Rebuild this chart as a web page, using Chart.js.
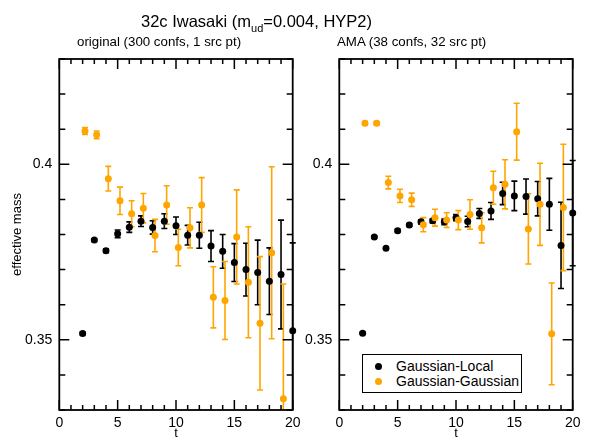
<!DOCTYPE html>
<html>
<head>
<meta charset="utf-8">
<script src="https://cdn.jsdelivr.net/npm/chart.js@4.4.0/dist/chart.umd.min.js"></script>
<style>
    body { margin: 0; background: #fff; font-family: "Liberation Sans", Arial, sans-serif; }
    #wrap { position: relative; width: 592px; height: 441px; overflow: hidden; }
    canvas { position: absolute; left: 0; top: 0; }
    .txt { position: absolute; white-space: nowrap; color: #000; line-height: 1; }
    #title { left: 141px; top: 13px; font-size: 16.5px; }
    #title .sub { font-size: 11px; position: relative; top: 5px; }
    #subLeft { left: 77px; top: 35px; font-size: 13.3px; }
    #subRight { left: 337px; top: 35px; font-size: 13.3px; }
    #legend { position: absolute; left: 362px; top: 354px; width: 158px; height: 37px;
              border: 1.2px solid #000; background: #fff; font-size: 14px; }
    #legend .row { position: absolute; left: 0; height: 16px; line-height: 16px; }
    #legend .dot { position: absolute; left: 12px; top: 4.5px; width: 7px; height: 7px; border-radius: 50%; }
    #legend .lbl { position: absolute; left: 33px; top: 0; white-space: nowrap; }
</style>
</head>
<body>
<div id="wrap">
    <canvas id="origChart" width="592" height="441"></canvas>
    <canvas id="amaChart" width="592" height="441"></canvas>
    <div class="txt" id="title">32c Iwasaki (m<span class="sub">ud</span>=0.004, HYP2)</div>
    <div class="txt" id="subLeft">original (300 confs, 1 src pt)</div>
    <div class="txt" id="subRight">AMA (38 confs, 32 src pt)</div>
    <div id="legend">
        <div class="row" style="top:3px"><span class="dot" style="background:#000"></span><span class="lbl">Gaussian-Local</span></div>
        <div class="row" style="top:18px"><span class="dot" style="background:#ffa500"></span><span class="lbl">Gaussian-Gaussian</span></div>
    </div>
</div>
<script>
// time slices (orange points are drawn slightly shifted to the right)
const localTimes = [2, 3, 4, 5, 6, 7, 8, 9, 10, 11, 12, 13, 14, 15, 16, 17, 18, 19, 20];
const gaussTimes = [2.2, 3.2, 4.2, 5.2, 6.2, 7.2, 8.2, 9.2, 10.2, 11.2, 12.2, 13.2, 14.2, 15.2, 16.2, 17.2, 18.2, 19.2];

// original (300 confs, 1 src pt)
const origLocal    = [0.3518, 0.3784, 0.3754, 0.3802, 0.3821, 0.3838, 0.3820, 0.3838, 0.3825, 0.3798, 0.3798, 0.3767, 0.3752, 0.3720, 0.3700, 0.3692, 0.3667, 0.3686, 0.3526];
const origLocalErr = [0.0004, 0.0004, 0.0005, 0.0011, 0.0015, 0.0015, 0.0019, 0.0021, 0.0025, 0.0028, 0.0037, 0.0044, 0.0048, 0.0054, 0.0075, 0.0092, 0.0095, 0.0155, 0.0250];
const origGauss    = [0.4095, 0.4084, 0.3959, 0.3896, 0.3859, 0.3875, 0.3797, 0.3884, 0.3763, 0.3819, 0.3884, 0.3621, 0.3612, 0.3793, 0.3664, 0.3547, 0.3748, 0.3332];
const origGaussErr = [0.0010, 0.0011, 0.0035, 0.0039, 0.0037, 0.0042, 0.0046, 0.0055, 0.0052, 0.0057, 0.0078, 0.0087, 0.0111, 0.0134, 0.0158, 0.0190, 0.0245, 0.0327];

// AMA (38 confs, 32 src pt)
const amaLocal    = [0.3519, 0.3793, 0.3761, 0.3811, 0.3827, 0.3836, 0.3839, 0.3836, 0.3848, 0.3837, 0.3860, 0.3867, 0.3917, 0.3910, 0.3908, 0.3902, 0.3886, 0.3769, 0.3861];
const amaLocalErr = [0.0003, 0.0003, 0.0003, 0.0004, 0.0004, 0.0006, 0.0006, 0.0008, 0.0009, 0.0015, 0.0014, 0.0024, 0.0032, 0.0042, 0.0050, 0.0049, 0.0074, 0.0123, 0.0150];
const amaGauss    = [0.4117, 0.4117, 0.3948, 0.3910, 0.3899, 0.3828, 0.3848, 0.3841, 0.3841, 0.3857, 0.3819, 0.3933, 0.3943, 0.4093, 0.3816, 0.3886, 0.3517, 0.3877];
const amaGaussErr = [0.0005, 0.0005, 0.0018, 0.0019, 0.0019, 0.0020, 0.0024, 0.0021, 0.0027, 0.0042, 0.0043, 0.0047, 0.0070, 0.0081, 0.0100, 0.0117, 0.0145, 0.0180];

// axis ticks that carry a label
const xLabelTicks = [0, 5, 10, 15, 20];
const yLabelTicks = [0.35, 0.4];

const FONT = '"Liberation Sans", Arial, sans-serif';
const ORANGE = '#ffa500';

function toPoints(xs, ys) {
    return ys.map((y, i) => ({ x: xs[i], y: y }));
}

function labelFor(list, value) {
    const hit = list.find(v => Math.abs(v - value) < 1e-9);
    return hit === undefined ? '' : String(hit);
}

// error bars, drawn under the markers
const errorBars = {
    id: 'errorBars',
    beforeDatasetsDraw(chart) {
        const { ctx, chartArea } = chart;
        const xs = chart.scales.x, ys = chart.scales.y;
        ctx.save();
        ctx.beginPath();
        ctx.rect(chartArea.left - 5, chartArea.top, chartArea.width + 10, chartArea.height);
        ctx.clip();
        chart.data.datasets.forEach(ds => {
            ctx.strokeStyle = ds.backgroundColor;
            ctx.lineWidth = 1.6;
            ds.data.forEach((p, i) => {
                const e = ds.errors[i];
                const px = xs.getPixelForValue(p.x);
                const top = ys.getPixelForValue(p.y + e);
                const bot = ys.getPixelForValue(p.y - e);
                ctx.beginPath();
                ctx.moveTo(px, top); ctx.lineTo(px, bot);
                ctx.moveTo(px - 3, top); ctx.lineTo(px + 3, top);
                ctx.moveTo(px - 3, bot); ctx.lineTo(px + 3, bot);
                ctx.stroke();
            });
        });
        ctx.restore();
    }
};

// box frame with inward tick marks on all four sides
const frameTicks = {
    id: 'frameTicks',
    afterDraw(chart) {
        const { ctx, chartArea: a } = chart;
        const xs = chart.scales.x, ys = chart.scales.y;
        ctx.save();
        ctx.strokeStyle = '#000';
        ctx.lineWidth = 1.5;
        ctx.beginPath();
        xs.ticks.forEach(t => {
            const px = xs.getPixelForValue(t.value);
            const len = t.label !== '' ? 10 : 5;
            ctx.moveTo(px, a.bottom); ctx.lineTo(px, a.bottom - len);
            ctx.moveTo(px, a.top); ctx.lineTo(px, a.top + len);
        });
        ys.ticks.forEach(t => {
            const py = ys.getPixelForValue(t.value);
            const len = t.label !== '' ? 10 : 6;
            ctx.moveTo(a.left, py); ctx.lineTo(a.left + len, py);
            ctx.moveTo(a.right, py); ctx.lineTo(a.right - len, py);
        });
        ctx.stroke();
        ctx.lineWidth = 1.8;
        ctx.strokeRect(a.left, a.top, a.width, a.height);
        ctx.restore();
    }
};

function makePanel(canvasId, local, localErr, gauss, gaussErr, pad, yWidth, yTitle) {
    const ctx = document.getElementById(canvasId).getContext('2d');
    return new Chart(ctx, {
        type: 'scatter',
        data: {
            datasets: [
                {
                    label: 'Gaussian-Local',
                    data: toPoints(localTimes, local),
                    errors: localErr,
                    backgroundColor: '#000',
                    pointRadius: 3.5,
                    pointBorderWidth: 0,
                    order: 2,
                    clip: false
                },
                {
                    label: 'Gaussian-Gaussian',
                    data: toPoints(gaussTimes, gauss),
                    errors: gaussErr,
                    backgroundColor: ORANGE,
                    pointRadius: 3.5,
                    pointBorderWidth: 0,
                    order: 1,
                    clip: false
                }
            ]
        },
        options: {
            responsive: false,
            animation: false,
            layout: { padding: pad, autoPadding: false },
            plugins: { legend: { display: false }, tooltip: { enabled: false } },
            scales: {
                x: {
                    type: 'linear',
                    min: 0,
                    max: 20,
                    grid: { display: false, drawTicks: false },
                    border: { display: false },
                    ticks: {
                        stepSize: 1,
                        autoSkip: false,
                        maxRotation: 0,
                        padding: 5,
                        color: '#000',
                        font: { family: FONT, size: 14 },
                        callback: v => labelFor(xLabelTicks, v)
                    },
                    title: {
                        display: true,
                        text: 't',
                        color: '#000',
                        padding: 0,
                        font: { family: FONT, size: 13 }
                    },
                    afterFit: s => { s.height = 31; s.paddingLeft = 0; s.paddingRight = 0; }
                },
                y: {
                    type: 'linear',
                    min: 0.33,
                    max: 0.43,
                    grid: { display: false, drawTicks: false },
                    border: { display: false },
                    ticks: {
                        stepSize: 0.01,
                        autoSkip: false,
                        padding: 7,
                        color: '#000',
                        font: { family: FONT, size: 14 },
                        callback: v => labelFor(yLabelTicks, v)
                    },
                    title: {
                        display: !!yTitle,
                        text: yTitle || '',
                        color: '#000',
                        padding: { top: 10 },
                        font: { family: FONT, size: 13 }
                    },
                    afterFit: s => { s.width = yWidth; s.paddingTop = 0; s.paddingBottom = 0; }
                }
            }
        },
        plugins: [errorBars, frameTicks]
    });
}

makePanel('origChart', origLocal, origLocalErr, origGauss, origGaussErr,
    { left: 0, right: 299.3, top: 59, bottom: 0 }, 59.3, 'effective mass');
makePanel('amaChart', amaLocal, amaLocalErr, amaGauss, amaGaussErr,
    { left: 296.3, right: 19.3, top: 59, bottom: 0 }, 43, '');
</script>
</body>
</html>
